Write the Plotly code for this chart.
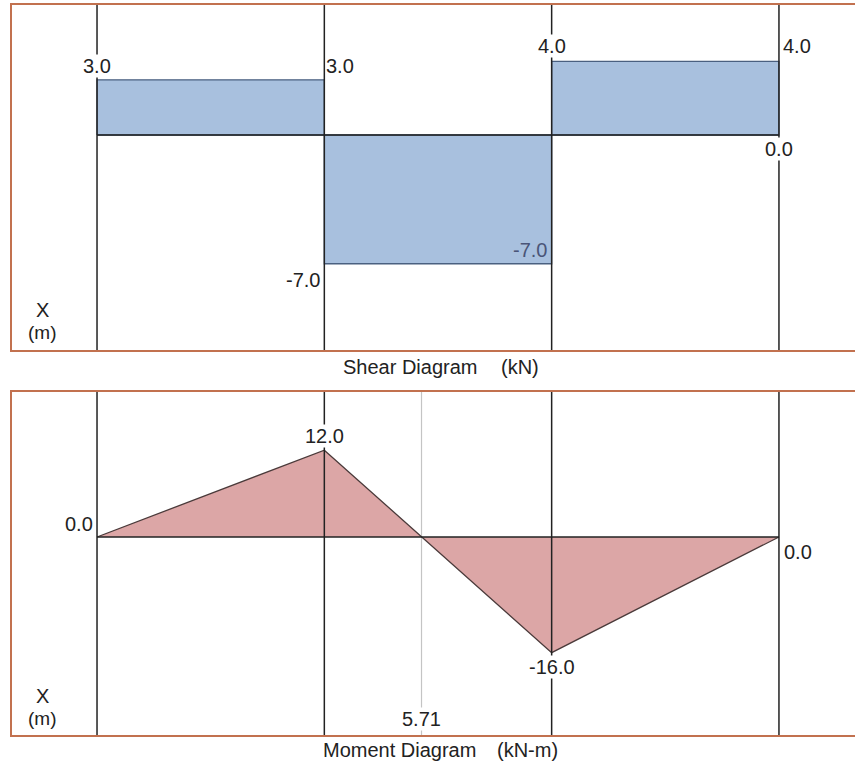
import plotly.graph_objects as go

# ---- data ----
x_nodes = [0, 4, 8, 12]                 # m
shear_values = [3.0, -7.0, 4.0]         # kN, per segment
moment_values = [0.0, 12.0, -16.0, 0.0]  # kN-m at nodes
zero_moment_x = 5.71                    # m

FONT = "Liberation Sans, Arial, Helvetica, sans-serif"
TXT = "#222222"
BORDER = "#c2714f"
SHEAR_FILL = "#a8c0de"
SHEAR_LINE = "#4a6080"
MOM_FILL = "#dca6a6"
MOM_LINE = "#4a3a3a"

fig = go.Figure()

# shear rectangles
for i, v in enumerate(shear_values):
    x0, x1 = x_nodes[i], x_nodes[i + 1]
    fig.add_trace(go.Scatter(
        x=[x0, x0, x1, x1, x0], y=[0, v, v, 0, 0],
        mode="lines", fill="toself", fillcolor=SHEAR_FILL,
        line=dict(color=SHEAR_LINE, width=1.3),
        xaxis="x", yaxis="y", hoverinfo="skip", showlegend=False))

# moment polygon
fig.add_trace(go.Scatter(
    x=x_nodes, y=moment_values, mode="lines", fill="tozeroy",
    fillcolor=MOM_FILL, line=dict(color=MOM_LINE, width=1.3),
    xaxis="x2", yaxis="y2", hoverinfo="skip", showlegend=False))

x_range = [-1.496, 13.338]
axis_common = dict(showgrid=False, zeroline=False, showticklabels=False, ticks="")
fig.update_layout(
    width=855, height=764,
    margin=dict(l=12, r=0, t=5, b=29),
    paper_bgcolor="white", plot_bgcolor="white",
    font=dict(family=FONT, size=20, color=TXT),
    xaxis=dict(domain=[0, 1], range=x_range, anchor="y", showline=True, mirror=True,
               linecolor=BORDER, linewidth=1.5, **axis_common),
    yaxis=dict(domain=[0.5274, 1], range=[-11.69, 7.069], anchor="x", showline=True,
               mirror=False, linecolor=BORDER, linewidth=1.5, **axis_common),
    xaxis2=dict(domain=[0, 1], range=x_range, anchor="y2", showline=True, mirror=True,
                linecolor=BORDER, linewidth=1.5, **axis_common),
    yaxis2=dict(domain=[0, 0.4699], range=[-27.38, 20.05], anchor="x2", showline=True,
                mirror=False, linecolor=BORDER, linewidth=1.5, **axis_common),
)

shapes = []
for xn in x_nodes:
    shapes.append(dict(type="line", xref="x", yref="y domain", x0=xn, x1=xn, y0=0, y1=1,
                       line=dict(color="#222222", width=1.5), layer="above"))
    shapes.append(dict(type="line", xref="x2", yref="y2 domain", x0=xn, x1=xn, y0=0, y1=1,
                       line=dict(color="#222222", width=1.5), layer="above"))
shapes.append(dict(type="line", xref="x2", yref="y2 domain", x0=zero_moment_x, x1=zero_moment_x,
                   y0=0, y1=1, line=dict(color="#c4c4c4", width=1.2), layer="below"))
shapes.append(dict(type="line", xref="x", yref="y", x0=x_nodes[0], x1=x_nodes[-1], y0=0, y1=0,
                   line=dict(color="#222222", width=1.3), layer="above"))
shapes.append(dict(type="line", xref="x2", yref="y2", x0=x_nodes[0], x1=x_nodes[-1], y0=0, y1=0,
                   line=dict(color="#222222", width=1.3), layer="above"))
fig.update_layout(shapes=shapes)

ann = []
def lab(text, x, y, xr, yr, xanchor="center", xshift=0, yshift=0, bg=None, color=TXT, size=20):
    d = dict(text=text, x=x, y=y, xref=xr, yref=yr, xanchor=xanchor, yanchor="middle",
             xshift=xshift, yshift=yshift, showarrow=False, font=dict(size=size, color=color),
             borderpad=0)
    if bg:
        d["bgcolor"] = bg
    ann.append(d)

# shear labels
lab(f"{shear_values[0]:.1f}", x_nodes[0], shear_values[0], "x", "y", yshift=14, bg="white")
lab(f"{shear_values[0]:.1f}", x_nodes[1], shear_values[0], "x", "y", xanchor="left", xshift=1, yshift=14)
lab(f"{shear_values[1]:.1f}", x_nodes[1], shear_values[1], "x", "y", xanchor="right", xshift=-3, yshift=-16)
lab(f"{shear_values[1]:.1f}", x_nodes[2], shear_values[1], "x", "y", xanchor="right", xshift=-4, yshift=14, color="#4a5578")
lab(f"{shear_values[2]:.1f}", x_nodes[2], shear_values[2], "x", "y", yshift=15, bg="white")
lab(f"{shear_values[2]:.1f}", x_nodes[3], shear_values[2], "x", "y", xanchor="left", xshift=3, yshift=15)
lab("0.0", x_nodes[3], 0, "x", "y", yshift=-14, bg="white")

# moment labels
lab(f"{moment_values[0]:.1f}", x_nodes[0], moment_values[0], "x2", "y2", xanchor="right", xshift=-3, yshift=13)
lab(f"{moment_values[1]:.1f}", x_nodes[1], moment_values[1], "x2", "y2", yshift=14, bg="white")
lab(f"{moment_values[2]:.1f}", x_nodes[2], moment_values[2], "x2", "y2", yshift=-14, bg="white")
lab(f"{moment_values[3]:.1f}", x_nodes[3], moment_values[3], "x2", "y2", xanchor="left", xshift=4, yshift=-15)
lab(f"{zero_moment_x:.2f}", zero_moment_x, 0, "x2", "y2 domain", yshift=16, bg="white")

# axis captions
lab("X", 0.0356, 0.116, "x domain", "y domain")
lab("(m)", 0.0356, 0.052, "x domain", "y domain", size=19)
lab("X", 0.0356, 0.114, "x2 domain", "y2 domain")
lab("(m)", 0.0356, 0.047, "x2 domain", "y2 domain", size=19)

# titles
lab("Shear Diagram", 0.5543, 0.504, "paper", "paper", xanchor="right")
lab("(kN)", 0.5789, 0.504, "paper", "paper", xanchor="left")
lab("Moment Diagram", 0.5516, -0.0205, "paper", "paper", xanchor="right")
lab("(kN-m)", 0.5738, -0.0205, "paper", "paper", xanchor="left")

fig.update_layout(annotations=ann)
fig.write_html("out.html", config={"displayModeBar": False},
               post_script="document.body.style.margin='0';document.body.style.overflow='hidden';")
